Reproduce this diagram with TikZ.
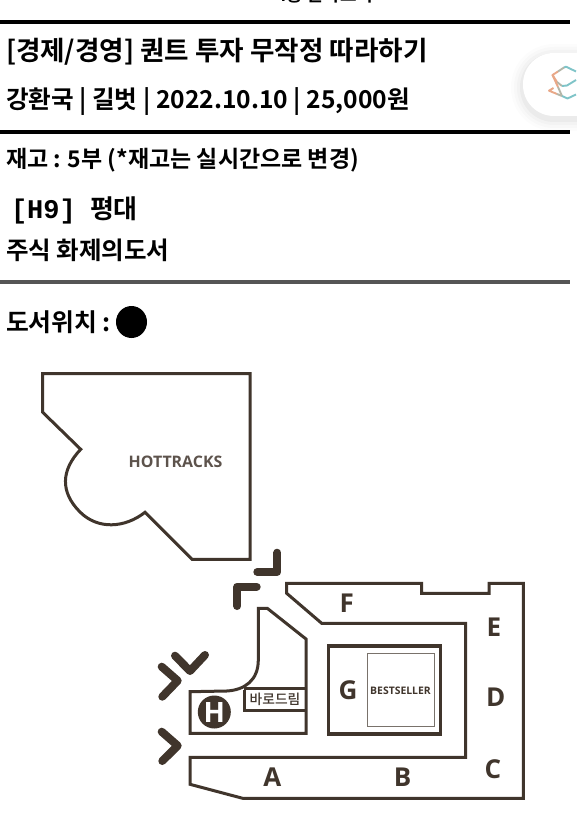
\documentclass[tikz,border=0pt]{standalone}
\usepackage{fontspec}
\setmainfont{Noto Sans CJK KR}[BoldFont={* Bold}]
\newfontfamily\kr{Noto Sans CJK KR Medium}
\newfontfamily\mapf{Open Sans}
\newfontfamily\monof{Liberation Mono}[BoldFont={Liberation Mono Bold}]
\usetikzlibrary{calc}
\definecolor{ink}{HTML}{40352C}
\definecolor{rulegray}{HTML}{555555}
\definecolor{icoa}{HTML}{E9A888}
\definecolor{icom}{HTML}{B4B6A8}
\definecolor{icob}{HTML}{7FC4C8}
\tikzset{
  x=1pt,y=-1pt,
  txt/.style={anchor=base west,inner sep=0pt,outer sep=0pt,font=\bfseries},
  wall/.style={draw=ink,line width=3pt,line join=miter},
  arrowmark/.style={draw=ink,line width=8pt,line cap=round,line join=round},
  zone/.style={anchor=center,inner sep=0pt,text=ink,font=\mapf\bfseries\fontsize{26}{26}\selectfont},
  icoline/.style={line width=1.9pt,line join=round},
}
\begin{document}
\begin{tikzpicture}
\useasboundingbox (0,0) rectangle (576,832);
\fill[white] (0,0) rectangle (576,832);
% clipped top text
\begin{scope}
\clip (0,0) rectangle (576,832);
\node[txt,font=\bfseries\fontsize{18}{18}\selectfont] (toptext) at (276,2) {4층 문학코너};
\end{scope}
% rules
\fill[black] (0,20) rectangle (570,24);
\fill[black] (0,130) rectangle (570,134);
\fill[rulegray] (0,280) rectangle (570,284);
% texts
\node[txt,font=\bfseries\fontsize{26.6}{26}\selectfont] (title) at (6,61) {[경제/경영] 퀀트 투자 무작정 따라하기};
\node[txt,font=\bfseries\fontsize{24.6}{24}\selectfont] (meta) at (6,109) {강환국 | 길벗 | 2022.10.10 | 25,000원};
\node[txt,font=\bfseries\fontsize{23}{23}\selectfont] (stock) at (6,167) {재고 : 5부 (*재고는 실시간으로 변경)};
\node[txt,font=\monof\bfseries\fontsize{27}{27}\selectfont] (loch) at (11,218) {[H9]};
\node[txt,font=\bfseries\fontsize{26}{26}\selectfont] (locp) at (90,218) {평대};
\node[txt,font=\bfseries\fontsize{24.5}{24}\selectfont] (cat) at (6,259) {주식 화제의도서};
\node[txt,font=\bfseries\fontsize{24.8}{24}\selectfont] (pos) at (6,331) {도서위치 :};
\fill[black] (131.5,322) ellipse [x radius=15.5,y radius=16];
% floating button
\foreach \i/\o in {12/0.012,9/0.015,6/0.02,3/0.03}{
  \fill[black,opacity=\o,rounded corners=31+\i] (523-\i,53-\i+3) rectangle (620,116+\i+3);
}
\fill[white,rounded corners=31] (523,53) rectangle (620,116);
\draw[icoa,icoline] (558,71.5) -- (552.5,75) -- (557,82);
\draw[icom,icoline] (558,71.5) -- (564,67.5);
\draw[icob,icoline] (564,67.5) -- (566,66.7) -- (576,71.5);
\draw[icom,icoline] (557,82) -- (562,86);
\draw[icob,icoline] (562,86) -- (567,85.5) -- (576,80);
\draw[icoa,icoline] (553.5,88) -- (549,90.7) -- (557,94);
\draw[icoa,icoline] (552.5,75) -- (558,87);
\draw[icom,icoline] (558,87) -- (562,96);
\draw[icob,icoline] (562,96) -- (567.5,98.5) -- (576,94.5);
\draw[icom,icoline] (557,94) -- (562,96);
% HOTTRACKS
\draw[wall] (42.7,373.7) -- (250,373.7) -- (250,559.3) -- (192,559.3) -- (145,512.3)
  .. controls (125,528) and (98,530) .. (80,512)
  .. controls (60,492) and (61,470) .. (80.7,449.3)
  -- (42.7,412.3) -- cycle;
\node[anchor=center,inner sep=0pt,text=ink!85!white,font=\mapf\bfseries\fontsize{15.9}{16}\selectfont] (hot) at (175.5,461.5) {HOTTRACKS};
% entrance marks
\draw[arrowmark] (277.3,552.7) -- (277.3,572) -- (257.3,572);
\draw[arrowmark] (256.7,586.7) -- (237.3,586.7) -- (237.3,606);
\draw[arrowmark] (161.7,666.7) -- (177.7,680.7) -- (162.3,696.7);
\draw[arrowmark] (175,655.7) -- (190,671) -- (205,655);
\draw[arrowmark] (161.7,731.7) -- (177.7,745.7) -- (162.3,761);
% centre block
\draw[wall] (258.3,608.3) -- (267.3,608.3) -- (306,639) -- (306,733.3) -- (190,733.3) -- (190,691.7) -- (226.7,691)
  .. controls (245,690) and (258.3,680) .. (258.3,660) -- cycle;
\draw[wall] (244,690) -- (244,710.7) -- (306,710.7);
\draw[wall] (244,688.3) -- (306,688.3);
\node[anchor=center,inner sep=0pt,text=ink,font=\kr\fontsize{13.8}{14}\selectfont] (baro) at (275,699.5) {바로드림};
\node[circle,fill=ink,minimum size=33pt,inner sep=0pt,text=white,font=\mapf\bfseries\fontsize{28}{28}\selectfont] (hel) at (214.3,712) {H};
% outer ring A-F
\draw[wall] (190,757.3) -- (465.7,757.3) -- (465.7,623.3) -- (321.7,623.3) -- (286.7,593.3) -- (286.7,583.3)
  -- (421.7,583.3) -- (421.7,593.3) -- (489,593.3) -- (489,583.3) -- (523.3,583.3) -- (523.3,798.3) -- (242.7,798.3) -- (190,784.3) -- cycle;
% G box
\draw[draw=ink,line width=3.4pt] (328.3,646) rectangle (440.7,734);
\draw[draw=ink!70!white,line width=1pt] (367,653.3) rectangle (434,726.7);
\node[anchor=center,inner sep=0pt,text=ink,font=\mapf\bfseries\fontsize{10.4}{10}\selectfont] (best) at (400.5,690.5) {BESTSELLER};
\node[zone] (F) at (346.7,603.5) {F};
\node[zone] (E) at (494,627) {E};
\node[zone] (D) at (495.7,697) {D};
\node[zone] (C) at (493,769) {C};
\node[zone] (B) at (402.7,777.7) {B};
\node[zone] (G) at (348,690.7) {G};
\node[zone] (A) at (272.3,777.3) {A};
\end{tikzpicture}
\end{document}
